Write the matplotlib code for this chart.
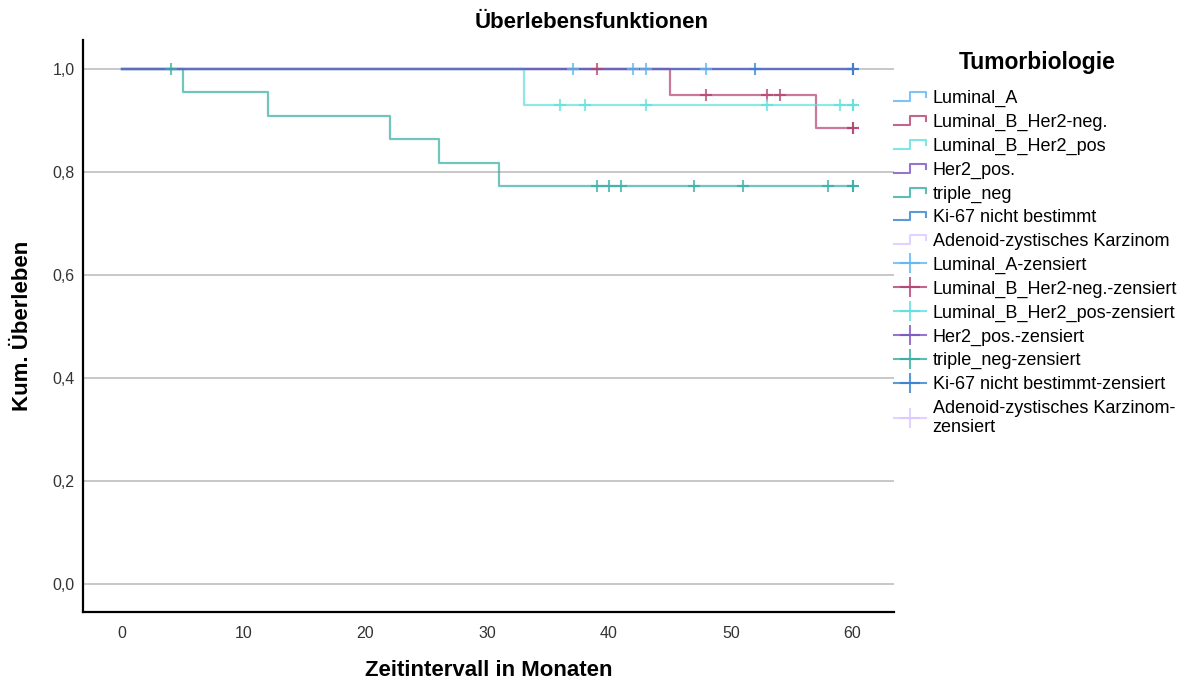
import numpy as np
import matplotlib
matplotlib.use('Agg')
import matplotlib.pyplot as plt
from matplotlib.lines import Line2D
from matplotlib.legend_handler import HandlerBase

plt.rcParams['font.family'] = ['Liberation Sans', 'DejaVu Sans']

# Gruppen der Tumorbiologie
gruppen = ['Luminal_A', 'Luminal_B_Her2-neg.', 'Luminal_B_Her2_pos', 'Her2_pos.',
           'triple_neg', 'Ki-67 nicht bestimmt', 'Adenoid-zystisches Karzinom']
farben = ['#5fb6f0', '#b2416f', '#5fe0dc', '#7a55c0', '#35ada3', '#3580cc', '#d9c8ff']
ebenen = [2, 2, 2, 4, 2, 3, 1]  # Zeichenreihenfolge der Kurven

# Stufenfunktionen (Zeit in Monaten, kumulatives Überleben)
zeit_lum_a = [0, 60]
surv_lum_a = [1.0, 1.0]
zens_lum_a = [37, 42, 43, 48, 60]

zeit_lum_b_neg = [0, 45, 57, 60]
surv_lum_b_neg = [1.0, 0.95, 0.885, 0.885]
zens_lum_b_neg = [39, 48, 53, 54, 60, 60]

zeit_lum_b_pos = [0, 33, 60]
surv_lum_b_pos = [1.0, 0.93, 0.93]
zens_lum_b_pos = [36, 38, 43, 53, 59, 60, 60]

zeit_her2 = [0, 60]
surv_her2 = [1.0, 1.0]
zens_her2 = [60]

zeit_triple = [0, 5, 12, 22, 26, 31, 60]
surv_triple = [1.0, 0.955, 0.909, 0.864, 0.818, 0.773, 0.773]
zens_triple = [4, 39, 40, 41, 47, 51, 58, 60, 60]

zeit_ki67 = [0, 60]
surv_ki67 = [1.0, 1.0]
zens_ki67 = [52, 60]

zeit_adenoid = []
surv_adenoid = []
zens_adenoid = []

zeiten = [zeit_lum_a, zeit_lum_b_neg, zeit_lum_b_pos, zeit_her2, zeit_triple, zeit_ki67, zeit_adenoid]
survs = [surv_lum_a, surv_lum_b_neg, surv_lum_b_pos, surv_her2, surv_triple, surv_ki67, surv_adenoid]
zensiert = [zens_lum_a, zens_lum_b_neg, zens_lum_b_pos, zens_her2, zens_triple, zens_ki67, zens_adenoid]


class StufenHandler(HandlerBase):
    # kleines Treppen-Symbol fuer die Legende
    def create_artists(self, legend, orig, xdescent, ydescent, width, height, fontsize, trans):
        x0 = -xdescent
        y0 = -ydescent
        xs = [x0, x0 + 0.5 * width, x0 + 0.5 * width, x0 + width, x0 + width]
        ys = [y0 + 0.15 * height, y0 + 0.15 * height, y0 + 0.85 * height, y0 + 0.85 * height, y0 + 0.45 * height]
        linie = Line2D(xs, ys, color=orig.get_color(), lw=1.5, alpha=orig.get_alpha())
        linie.set_transform(trans)
        return [linie]


fig = plt.figure(figsize=(11.91, 6.82), dpi=100)
ax = fig.add_axes([0.0697, 0.1026, 0.6809, 0.8387])

handles_linie = []
handles_zens = []
for i, (farbe, zo, t, s, z) in enumerate(zip(farben, ebenen, zeiten, survs, zensiert)):
    if len(t) > 0:
        ax.step(t, s, where='post', color=farbe, lw=1.6, alpha=0.6 if zo == 4 else 0.7, zorder=zo)
        zy = [s[np.searchsorted(t, zz, side='right') - 1] for zz in z]
        ax.plot(z, zy, linestyle='none', marker='+', markersize=9, mew=1.5, color=farbe,
                alpha=0.75, zorder=10 + i)
    handles_linie.append(Line2D([], [], color=farbe, alpha=0.8))
    handles_zens.append(Line2D([], [], color=farbe, alpha=0.8, lw=1.5, marker='+', markersize=14, mew=1.5))

ax.set_xlim(-3.2, 63.4)
ax.set_ylim(-0.055, 1.056)
ax.set_xticks([0, 10, 20, 30, 40, 50, 60])
ax.set_yticks([0, 0.2, 0.4, 0.6, 0.8, 1.0])
ax.set_yticklabels(['0,0', '0,2', '0,4', '0,6', '0,8', '1,0'])
ax.tick_params(length=0, labelsize=11.5, labelcolor='#333333')
ax.tick_params(axis='x', pad=10)
ax.tick_params(axis='y', pad=6)
ax.grid(axis='y', color='#c4c4c4', lw=1.3)
ax.set_axisbelow(True)
ax.spines['top'].set_visible(False)
ax.spines['right'].set_visible(False)
ax.spines['left'].set_linewidth(1.6)
ax.spines['bottom'].set_linewidth(1.6)

ax.set_xlabel('Zeitintervall in Monaten', fontsize=16, fontweight='bold', labelpad=14)
ax.set_ylabel('Kum. Überleben', fontsize=16, fontweight='bold', labelpad=14)
fig.suptitle('Überlebensfunktionen', fontsize=16, fontweight='bold', x=0.497, y=0.982)

labels = gruppen + [g + '-zensiert' for g in gruppen[:-1]] + ['Adenoid-zystisches Karzinom-\nzensiert']
handler_map = {h: StufenHandler() for h in handles_linie}
fig.legend(handles_linie + handles_zens, labels, handler_map=handler_map,
           loc='upper left', bbox_to_anchor=(0.7505, 0.868), frameon=False,
           fontsize=13, handlelength=1.8, handletextpad=0.35, labelspacing=0.37,
           borderpad=0.0, borderaxespad=0.0)
fig.text(0.871, 0.909, 'Tumorbiologie', fontsize=16.5, fontweight='bold', ha='center', va='center')

fig.savefig('out.png', dpi=100)
